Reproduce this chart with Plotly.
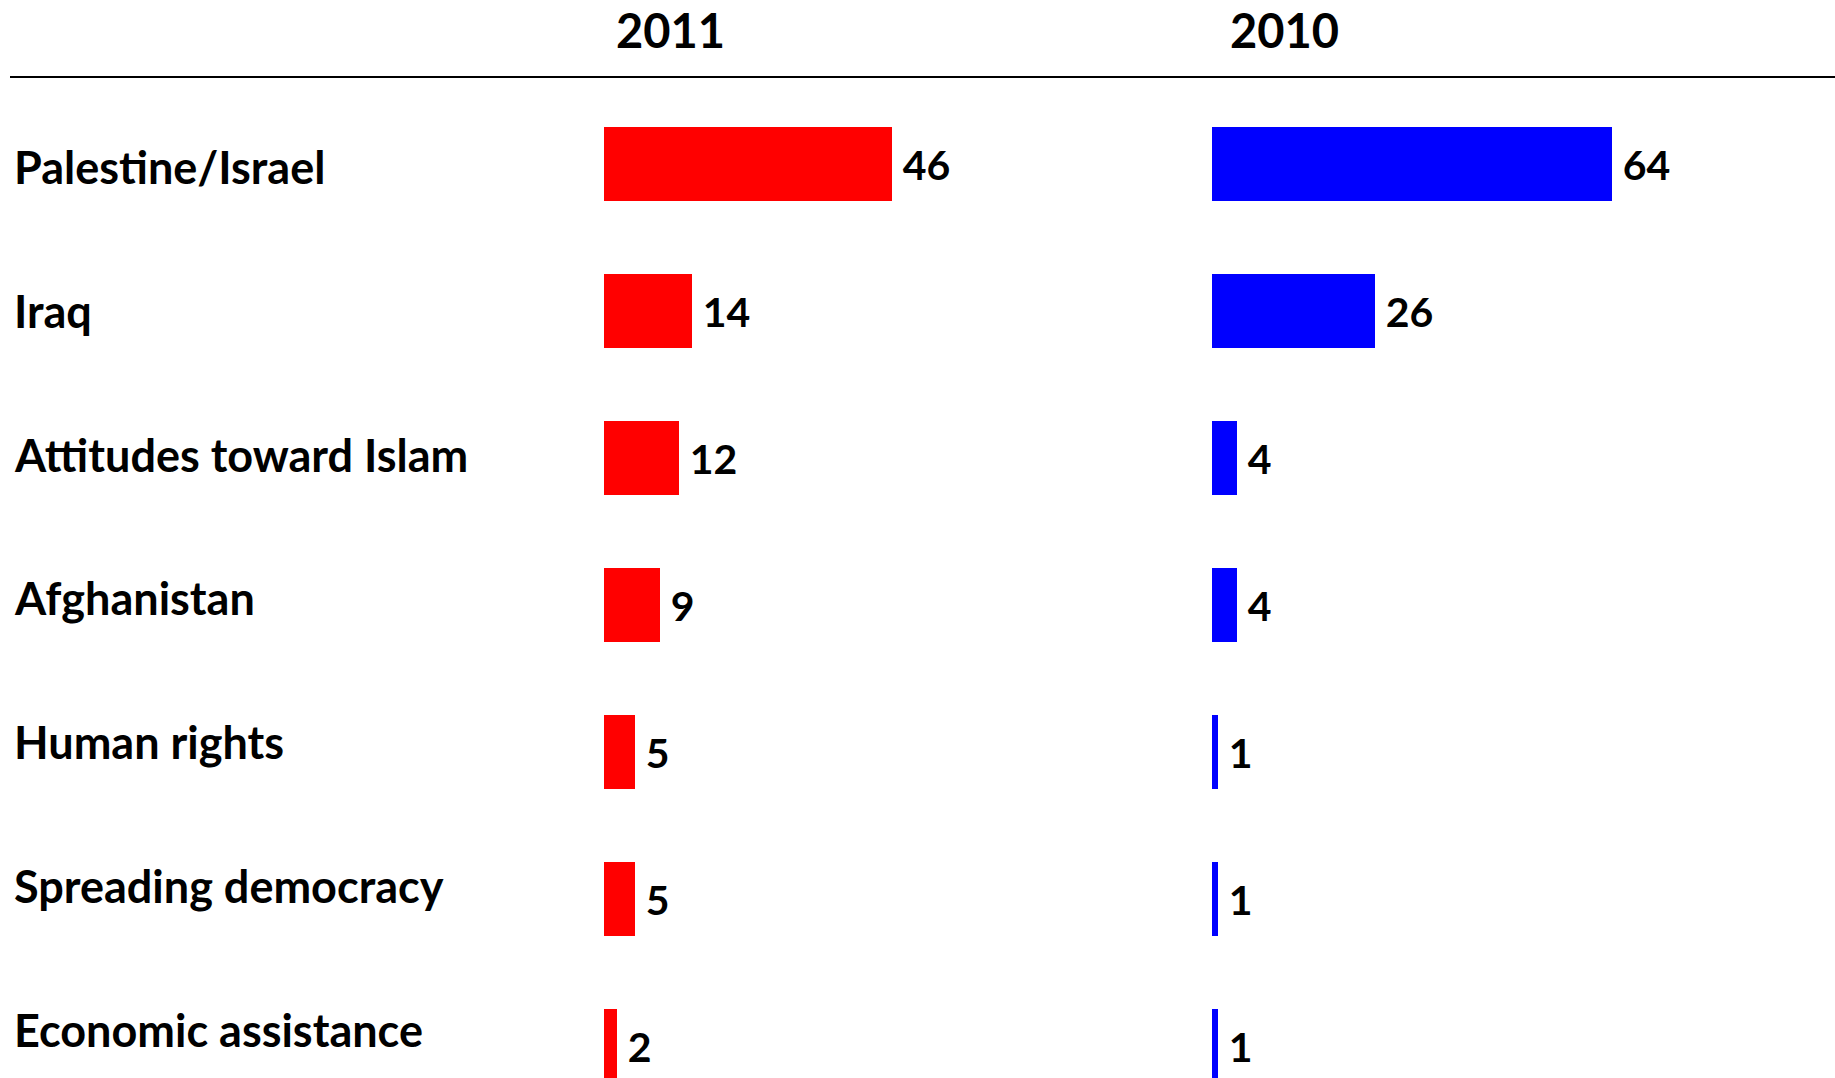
import plotly.graph_objects as go

categories = ["Palestine/Israel", "Iraq", "Attitudes toward Islam", "Afghanistan",
              "Human rights", "Spreading democracy", "Economic assistance"]
values_2011 = [46, 14, 12, 9, 5, 5, 2]
values_2010 = [64, 26, 4, 4, 1, 1, 1]
headers = ["2011", "2010"]

W, H = 1835, 1078
FONT = "Lato"
RED = "#FF0000"
BLUE = "#0000FF"

# pixel geometry
px_per_unit = 6.25
left_x0, left_x1 = 604, 1180
right_x0, right_x1 = 1212, W
row0, row_step = 163.7, 147.1       # bar rows
lab0, lab_step = 167.0, 143.75      # label rows

def cat_range(c0, step):
    return [(H - c0) / step, -c0 / step]

pad = '<span style="font-size:32px">\u00a0</span>'

fig = go.Figure()
fig.add_trace(go.Bar(
    x=values_2011, y=categories, orientation="h", xaxis="x", yaxis="y",
    marker=dict(color=RED, line=dict(width=0)), width=74 / row_step,
    text=[pad + str(v) for v in values_2011], textposition="outside",
    textfont=dict(family=FONT, size=41, color="black", weight="bold"),
    hoverinfo="skip", showlegend=False,
))
fig.add_trace(go.Bar(
    x=values_2010, y=categories, orientation="h", xaxis="x2", yaxis="y",
    marker=dict(color=BLUE, line=dict(width=0)), width=74 / row_step,
    text=[pad + str(v) for v in values_2010], textposition="outside",
    textfont=dict(family=FONT, size=41, color="black", weight="bold"),
    hoverinfo="skip", showlegend=False,
))

annotations = []
for c in categories:
    annotations.append(dict(
        x=12 / W, xref="paper", y=c, yref="y3", text=c, showarrow=False,
        xanchor="left", yanchor="middle",
        font=dict(family=FONT, size=45, color="black", weight="bold"),
    ))
for h, cx in zip(headers, [670, 1284]):
    annotations.append(dict(
        x=cx / W, xref="paper", y=1 - 30 / H, yref="paper", text=h,
        showarrow=False, xanchor="center", yanchor="middle",
        font=dict(family=FONT, size=47, color="black", weight="bold"),
    ))

fig.update_layout(
    width=W, height=H,
    margin=dict(l=0, r=0, t=0, b=0),
    paper_bgcolor="white", plot_bgcolor="white",
    bargap=0,
    xaxis=dict(domain=[left_x0 / W, left_x1 / W], range=[0, (left_x1 - left_x0) / px_per_unit],
               visible=False, anchor="y"),
    xaxis2=dict(domain=[right_x0 / W, right_x1 / W], range=[0, (right_x1 - right_x0) / px_per_unit],
                visible=False, anchor="y"),
    yaxis=dict(domain=[0, 1], type="category", categoryorder="array", categoryarray=categories,
               range=cat_range(row0, row_step), visible=False),
    yaxis3=dict(domain=[0, 1], type="category", categoryorder="array", categoryarray=categories,
                range=cat_range(lab0, lab_step), visible=False, overlaying="y"),
    annotations=annotations,
    shapes=[dict(type="line", xref="paper", yref="paper", x0=10 / W, x1=1,
                 y0=1 - 77 / H, y1=1 - 77 / H, line=dict(color="black", width=2))],
)

fig.write_html(
    "out.html",
    config={"displayModeBar": False},
    post_script="document.body.style.margin='0';document.body.style.overflow='hidden';",
)
